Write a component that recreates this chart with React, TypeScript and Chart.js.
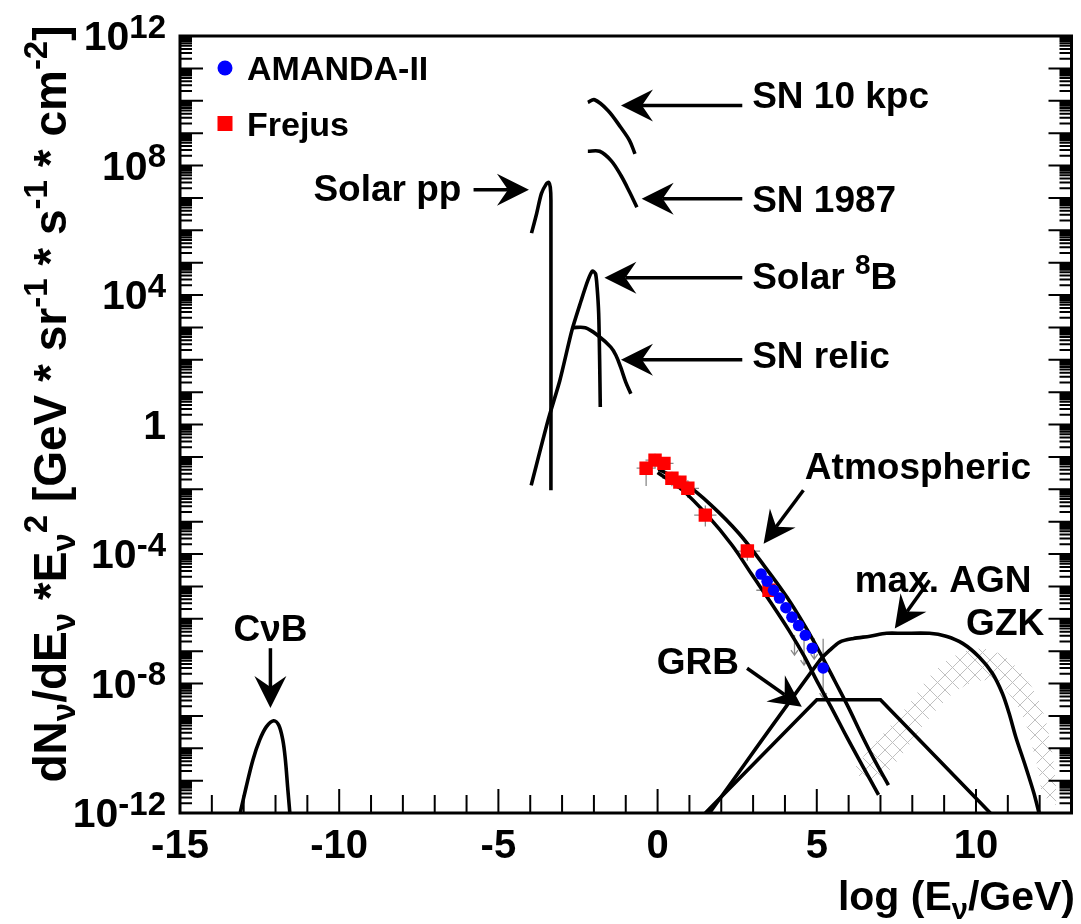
import React, { useEffect, useRef } from 'react';
import { Chart, registerables } from 'chart.js';

Chart.register(...registerables);

const FONT = '"Liberation Sans", Arial, Helvetica, sans-serif';

// x values: log10(E_nu / GeV); y values: log10 of dN/dE * E^2
const cnubX = [-13.11, -12.92, -12.71, -12.5, -12.29, -12.06, -11.9, -11.77, -11.69, -11.62, -11.55];
const cnubLogY = [-12.0, -11.19, -10.36, -9.75, -9.34, -9.15, -9.28, -9.75, -10.36, -11.19, -12.0];

const solarPpX = [-3.96, -3.8, -3.65, -3.49, -3.42, -3.37, -3.35, -3.35];
const solarPpLogY = [5.91, 6.51, 7.13, 7.44, 7.48, 7.33, 6.92, -2.03];

const solar8BX = [-3.97, -3.44, -3.07, -2.69, -2.4, -2.19, -2.05, -1.95, -1.9, -1.85, -1.82, -1.8];
const solar8BLogY = [-1.88, 0.13, 1.36, 2.91, 3.83, 4.45, 4.74, 4.66, 4.24, 3.42, 1.98, 0.54];

const snRelicX = [-2.69, -2.27, -1.875, -1.47, -1.31, -1.16, -1.0, -0.84];
const snRelicLogY = [2.99, 2.99, 2.75, 2.39, 2.14, 1.77, 1.31, 0.95];

const sn10kpcX = [-2.19, -1.98, -1.56, -1.16, -0.88, -0.71];
const sn10kpcLogY = [9.95, 10.03, 9.7, 9.18, 8.77, 8.36];

const sn1987X = [-2.19, -1.82, -1.46, -1.15, -0.88, -0.65];
const sn1987LogY = [8.44, 8.44, 8.15, 7.69, 7.18, 6.71];

const atmUpperX = [0.03, 0.84, 1.68, 2.55, 3.36, 4.06, 4.65, 5.14, 5.57, 5.99, 6.41, 6.83, 7.25];
const atmUpperLogY = [-1.38, -1.81, -2.49, -3.36, -4.38, -5.33, -6.26, -7.12, -7.93, -8.73, -9.59, -10.4, -11.14];

const atmLowerX = [0.0, 0.75, 1.56, 2.34, 2.95, 3.55, 4.12, 4.6, 5.04, 5.5, 5.94, 6.44, 6.94];
const atmLowerLogY = [-1.48, -2.0, -2.8, -3.73, -4.62, -5.49, -6.35, -7.15, -7.99, -8.82, -9.65, -10.55, -11.44];

const grbX = [1.5, 5.0, 7.0, 10.45];
const grbLogY = [-12.0, -8.5, -8.5, -12.0];

const agnX = [1.63, 5.1, 5.41, 5.72, 6.15, 6.67, 7.19, 7.71, 8.54, 9.06, 9.58, 10.1, 10.52, 10.83, 11.04, 11.25, 11.56, 11.82, 11.98];
const agnLogY = [-12.0, -7.28, -6.97, -6.72, -6.61, -6.54, -6.45, -6.45, -6.45, -6.54, -6.76, -7.18, -7.69, -8.31, -8.92, -9.65, -10.57, -11.39, -12.0];

// GZK band outline: outer edge left to right, then inner edge right to left
const gzkBandX = [
  6.09, 6.46, 7.19, 7.92, 8.44, 8.96, 9.58, 10.21, 10.83, 11.46, 11.875, 12.19, 12.4, 12.5, 12.5,
  12.08, 11.98, 11.77, 11.56, 11.25, 10.83, 10.31, 9.79, 9.27, 8.75, 8.23, 7.71, 7.19, 6.77,
];
const gzkBandLogY = [
  -10.73, -10.26, -9.44, -8.61, -7.9, -7.38, -7.02, -6.92, -7.12, -7.69, -8.31, -9.13, -10.16, -10.98, -11.75,
  -11.39, -10.77, -9.95, -9.23, -8.61, -8.1, -7.9, -8.0, -8.31, -8.82, -9.44, -10.16, -10.77, -11.08,
];

const frejusX = [-0.36, -0.08, 0.2, 0.45, 0.7, 0.95, 1.5, 2.82, 3.5];
const frejusLogY = [-1.35, -1.1, -1.2, -1.66, -1.78, -1.97, -2.8, -3.91, -5.12];
const frejusXErr = [0.3, 0.3, 0.3, 0.3, 0.3, 0.35, 0.35, 0.4, 0.4];
const frejusLogYErrLo = [0.55, 0.25, 0.25, 0.25, 0.25, 0.3, 0.35, 0.3, 0.35];
const frejusLogYErrHi = [0.2, 0.2, 0.2, 0.2, 0.2, 0.25, 0.3, 0.3, 0.3];

const amandaX = [3.25, 3.44, 3.64, 3.83, 4.03, 4.22, 4.43, 4.64, 4.86, 5.2];
const amandaLogY = [-4.62, -4.84, -5.12, -5.36, -5.66, -5.95, -6.21, -6.51, -6.91, -7.52];
const amandaLimX = [4.3, 4.6, 4.92, 5.2];
const amandaLimTopLogY = [-6.5, -6.6, -6.6, -6.62];
const amandaLimBottomLogY = [-7.12, -7.43, -7.25, -8.45];

const xTickLabels = [-15, -10, -5, 0, 5, 10];
const yTickExponents = [12, 8, 4, 0, -4, -8, -12];

type Seg = { t: string; s?: 'sup' | 'sub' };

const yTitle: Seg[] = [
  { t: 'dN' }, { t: 'ν', s: 'sub' }, { t: '/dE' }, { t: 'ν', s: 'sub' }, { t: ' *E' }, { t: 'ν', s: 'sub' },
  { t: '2', s: 'sup' }, { t: ' [GeV * sr' }, { t: '-1', s: 'sup' }, { t: ' * s' }, { t: '-1', s: 'sup' },
  { t: ' * cm' }, { t: '-2', s: 'sup' }, { t: ']' },
];
const xTitle: Seg[] = [{ t: 'log (E' }, { t: 'ν', s: 'sub' }, { t: '/GeV)' }];

type Ann = { segs: Seg[]; x: number; y: number; align: 'left' | 'right' | 'center'; from?: [number, number]; to?: [number, number] };
// positions in data space (x = log E, y = log10 flux)
const annotations: Ann[] = [
  { segs: [{ t: 'SN 10 kpc' }], x: 2.97, y: 10.19, align: 'left', from: [2.66, 9.85], to: [-1.15, 9.85] },
  { segs: [{ t: 'SN 1987' }], x: 2.97, y: 6.97, align: 'left', from: [2.66, 6.97], to: [-0.5, 6.97] },
  { segs: [{ t: 'Solar pp' }], x: -6.16, y: 7.29, align: 'right', from: [-5.78, 7.25], to: [-4.04, 7.25] },
  { segs: [{ t: 'Solar ' }, { t: '8', s: 'sup' }, { t: 'B' }], x: 2.97, y: 4.6, align: 'left', from: [2.66, 4.53], to: [-1.67, 4.53] },
  { segs: [{ t: 'SN relic' }], x: 2.97, y: 2.14, align: 'left', from: [2.66, 2.0], to: [-1.15, 2.0] },
  { segs: [{ t: 'Atmospheric' }], x: 4.625, y: -1.29, align: 'left', from: [4.58, -2.03], to: [3.33, -3.68] },
  { segs: [{ t: 'max. AGN' }], x: 6.19, y: -4.78, align: 'left', from: [8.54, -4.81], to: [7.45, -6.3] },
  { segs: [{ t: 'GZK' }], x: 9.69, y: -6.1, align: 'left' },
  { segs: [{ t: 'GRB' }], x: -0.03, y: -7.31, align: 'left', from: [2.81, -7.53], to: [4.53, -8.72] },
  { segs: [{ t: 'CνB' }], x: -12.16, y: -6.29, align: 'center', from: [-12.16, -6.91], to: [-12.16, -8.76] },
];

const toPts = (xs: number[], ly: number[]) => xs.map((x, i) => ({ x, y: Math.pow(10, ly[i]) }));

function drawRich(
  ctx: CanvasRenderingContext2D, segs: Seg[], x: number, y: number, size: number,
  align: 'left' | 'right' | 'center', scale = 0.72, supRaise = 0.42, subDrop = 0.2,
) {
  const font = (s?: string) => `bold ${s ? Math.round(size * scale) : size}px ${FONT}`;
  let w = 0;
  const ws = segs.map((sg) => { ctx.font = font(sg.s); const m = ctx.measureText(sg.t).width; w += m; return m; });
  let cx = align === 'left' ? x : align === 'right' ? x - w : x - w / 2;
  ctx.textAlign = 'left';
  ctx.textBaseline = 'alphabetic';
  segs.forEach((sg, i) => {
    ctx.font = font(sg.s);
    const dy = sg.s === 'sup' ? -size * supRaise : sg.s === 'sub' ? size * subDrop : 0;
    ctx.fillText(sg.t, cx, y + dy);
    cx += ws[i];
  });
  return w;
}

function drawArrow(ctx: CanvasRenderingContext2D, x1: number, y1: number, x2: number, y2: number) {
  const dx = x2 - x1, dy = y2 - y1;
  const len = Math.hypot(dx, dy);
  const ux = dx / len, uy = dy / len;
  const px = -uy, py = ux;
  const L = 32, W = 16, N = 21;
  ctx.beginPath();
  ctx.moveTo(x1, y1);
  ctx.lineTo(x2 - ux * N, y2 - uy * N);
  ctx.stroke();
  ctx.beginPath();
  ctx.moveTo(x2, y2);
  ctx.lineTo(x2 - ux * L + px * W, y2 - uy * L + py * W);
  ctx.lineTo(x2 - ux * N, y2 - uy * N);
  ctx.lineTo(x2 - ux * L - px * W, y2 - uy * L - py * W);
  ctx.closePath();
  ctx.fill();
}

const decorPlugin = {
  id: 'decor',
  beforeDatasetsDraw(chart: any) {
    const ctx: CanvasRenderingContext2D = chart.ctx;
    const xs = chart.scales.x, ys = chart.scales.y;
    ctx.save();
    ctx.strokeStyle = '#8a8a8a';
    ctx.lineWidth = 1.3;
    frejusX.forEach((x, i) => {
      const cx = xs.getPixelForValue(x), cy = ys.getPixelForValue(Math.pow(10, frejusLogY[i]));
      ctx.beginPath();
      ctx.moveTo(xs.getPixelForValue(x - frejusXErr[i]), cy);
      ctx.lineTo(xs.getPixelForValue(x + frejusXErr[i]), cy);
      ctx.moveTo(cx, ys.getPixelForValue(Math.pow(10, frejusLogY[i] + frejusLogYErrHi[i])));
      ctx.lineTo(cx, ys.getPixelForValue(Math.pow(10, frejusLogY[i] - frejusLogYErrLo[i])));
      ctx.stroke();
    });
    amandaLimX.forEach((x, i) => {
      const cx = xs.getPixelForValue(x);
      const t = ys.getPixelForValue(Math.pow(10, amandaLimTopLogY[i]));
      const b = ys.getPixelForValue(Math.pow(10, amandaLimBottomLogY[i]));
      ctx.beginPath();
      ctx.moveTo(cx, t);
      ctx.lineTo(cx, b);
      ctx.moveTo(cx - 3.5, b - 5);
      ctx.lineTo(cx, b);
      ctx.lineTo(cx + 3.5, b - 5);
      ctx.stroke();
    });
    ctx.restore();
  },
  afterDraw(chart: any) {
    const ctx: CanvasRenderingContext2D = chart.ctx;
    const xs = chart.scales.x, ys = chart.scales.y;
    const { left, right, top, bottom } = chart.chartArea;
    ctx.save();
    ctx.strokeStyle = '#000';
    ctx.fillStyle = '#000';
    ctx.lineCap = 'butt';
    // ticks
    ctx.lineWidth = 2;
    ctx.beginPath();
    for (let v = Math.ceil(xs.min); v <= Math.floor(xs.max); v++) {
      const px = xs.getPixelForValue(v);
      const len = v % 5 === 0 ? 24 : 18;
      ctx.moveTo(px, bottom);
      ctx.lineTo(px, bottom - len);
    }
    for (let e = -12; e <= 12; e++) {
      for (let m = 1; m <= 9; m++) {
        if (e === 12 && m > 1) break;
        const py = ys.getPixelForValue(m * Math.pow(10, e));
        const len = m === 1 ? 23 : 12;
        ctx.moveTo(left, py);
        ctx.lineTo(left + len, py);
        ctx.moveTo(right, py);
        ctx.lineTo(right - len, py);
      }
    }
    ctx.stroke();
    // frame
    ctx.lineWidth = 3;
    ctx.strokeRect(left, top, right - left, bottom - top);

    // x tick labels
    ctx.font = `bold 40px ${FONT}`;
    ctx.textAlign = 'center';
    ctx.textBaseline = 'alphabetic';
    xTickLabels.forEach((v) => {
      ctx.fillText(String(v), xs.getPixelForValue(v), bottom + 45);
    });
    // y tick labels
    yTickExponents.forEach((e) => {
      const py = ys.getPixelForValue(Math.pow(10, e));
      const segs: Seg[] = e === 0 ? [{ t: '1' }] : [{ t: '10' }, { t: String(e), s: 'sup' }];
      drawRich(ctx, segs, left - 14, py + 14, 41, 'right', 0.8, 0.3);
    });

    // axis titles
    drawRich(ctx, xTitle, 1075, 910, 41, 'right', 0.7, 0.4, 0.22);
    ctx.save();
    ctx.translate(66, 404);
    ctx.rotate(-Math.PI / 2);
    drawRich(ctx, yTitle, 0, 0, 46, 'center', 0.72, 0.42, 0.2);
    ctx.restore();

    // annotations
    ctx.lineWidth = 3.5;
    annotations.forEach((a) => {
      const tx = xs.getPixelForValue(a.x);
      const ty = ys.getPixelForValue(Math.pow(10, a.y));
      drawRich(ctx, a.segs, tx, ty + 13, 37, a.align, 0.75, 0.4);
      if (a.from && a.to) {
        drawArrow(
          ctx,
          xs.getPixelForValue(a.from[0]), ys.getPixelForValue(Math.pow(10, a.from[1])),
          xs.getPixelForValue(a.to[0]), ys.getPixelForValue(Math.pow(10, a.to[1])),
        );
      }
    });

    // legend
    const lx = left + 45;
    ctx.fillStyle = '#0000ff';
    ctx.beginPath();
    ctx.arc(lx, top + 32, 7.5, 0, Math.PI * 2);
    ctx.fill();
    ctx.fillStyle = '#ff0000';
    ctx.fillRect(lx - 7.5, top + 80, 15, 15);
    ctx.fillStyle = '#000';
    ctx.font = `bold 34px ${FONT}`;
    ctx.textAlign = 'left';
    ctx.textBaseline = 'alphabetic';
    ctx.fillText('AMANDA-II', lx + 22, top + 44);
    ctx.fillText('Frejus', lx + 22, top + 100);
    ctx.restore();
  },
};

function makeHatch(): CanvasPattern | string {
  const c = document.createElement('canvas');
  const s = 15;
  c.width = s;
  c.height = s;
  const g = c.getContext('2d');
  if (!g) return 'rgba(0,0,0,0.15)';
  g.strokeStyle = '#c0c0c0';
  g.lineWidth = 1;
  g.beginPath();
  g.moveTo(-2, -2);
  g.lineTo(s + 2, s + 2);
  g.moveTo(s + 2, -2);
  g.lineTo(-2, s + 2);
  g.stroke();
  return g.createPattern(c, 'repeat') || 'rgba(0,0,0,0.15)';
}

export default function App() {
  const ref = useRef<HTMLCanvasElement>(null);
  useEffect(() => {
    const canvas = ref.current;
    if (!canvas) return;
    const hatch = makeHatch();
    const curve = (label: string, xs: number[], ly: number[], tension = 0.35) => ({
      type: 'line' as const,
      label,
      data: toPts(xs, ly),
      borderColor: '#000',
      borderWidth: 3.6,
      pointRadius: 0,
      fill: false,
      tension,
      order: 2,
    });
    const chart = new Chart(canvas, {
      type: 'line',
      data: {
        datasets: [
          {
            label: 'GZK', data: toPts(gzkBandX, gzkBandLogY), borderColor: 'rgba(0,0,0,0)', borderWidth: 1,
            pointRadius: 0, backgroundColor: hatch as any, fill: 'shape', tension: 0.2, order: 5,
          },
          curve('CνB', cnubX, cnubLogY),
          curve('Solar pp', solarPpX, solarPpLogY, 0.25),
          curve('Solar 8B', solar8BX, solar8BLogY, 0.25),
          curve('SN relic', snRelicX, snRelicLogY),
          curve('SN 10 kpc', sn10kpcX, sn10kpcLogY),
          curve('SN 1987', sn1987X, sn1987LogY),
          curve('Atmospheric upper', atmUpperX, atmUpperLogY),
          curve('Atmospheric lower', atmLowerX, atmLowerLogY),
          curve('GRB', grbX, grbLogY, 0),
          curve('max. AGN', agnX, agnLogY, 0.3),
          {
            label: 'Frejus', data: toPts(frejusX, frejusLogY), showLine: false, pointStyle: 'rect',
            pointRadius: 9.5, pointBackgroundColor: '#ff0000', pointBorderWidth: 0, borderColor: '#ff0000', order: 1,
          },
          {
            label: 'AMANDA-II', data: toPts(amandaX, amandaLogY), showLine: false, pointStyle: 'circle',
            pointRadius: 5.8, pointBackgroundColor: '#0000ff', pointBorderWidth: 0, borderColor: '#0000ff', order: 0,
          },
        ] as any,
      },
      options: {
        responsive: false,
        animation: false,
        devicePixelRatio: 1,
        events: [],
        layout: { padding: { left: 180, top: 36, right: 5, bottom: 111 } },
        scales: {
          x: { type: 'linear', min: -15, max: 13, display: false },
          y: { type: 'logarithmic', min: 1e-12, max: 1e12, display: false },
        },
        plugins: {
          legend: { display: false },
          tooltip: { enabled: false },
          title: { display: false },
        },
      },
      plugins: [decorPlugin],
    });
    return () => chart.destroy();
  }, []);
  return (
    <div style={{ position: 'fixed', left: 0, top: 0, width: 1081, height: 924, background: '#fff' }}>
      <canvas ref={ref} width={1081} height={924} style={{ display: 'block' }} />
    </div>
  );
}
